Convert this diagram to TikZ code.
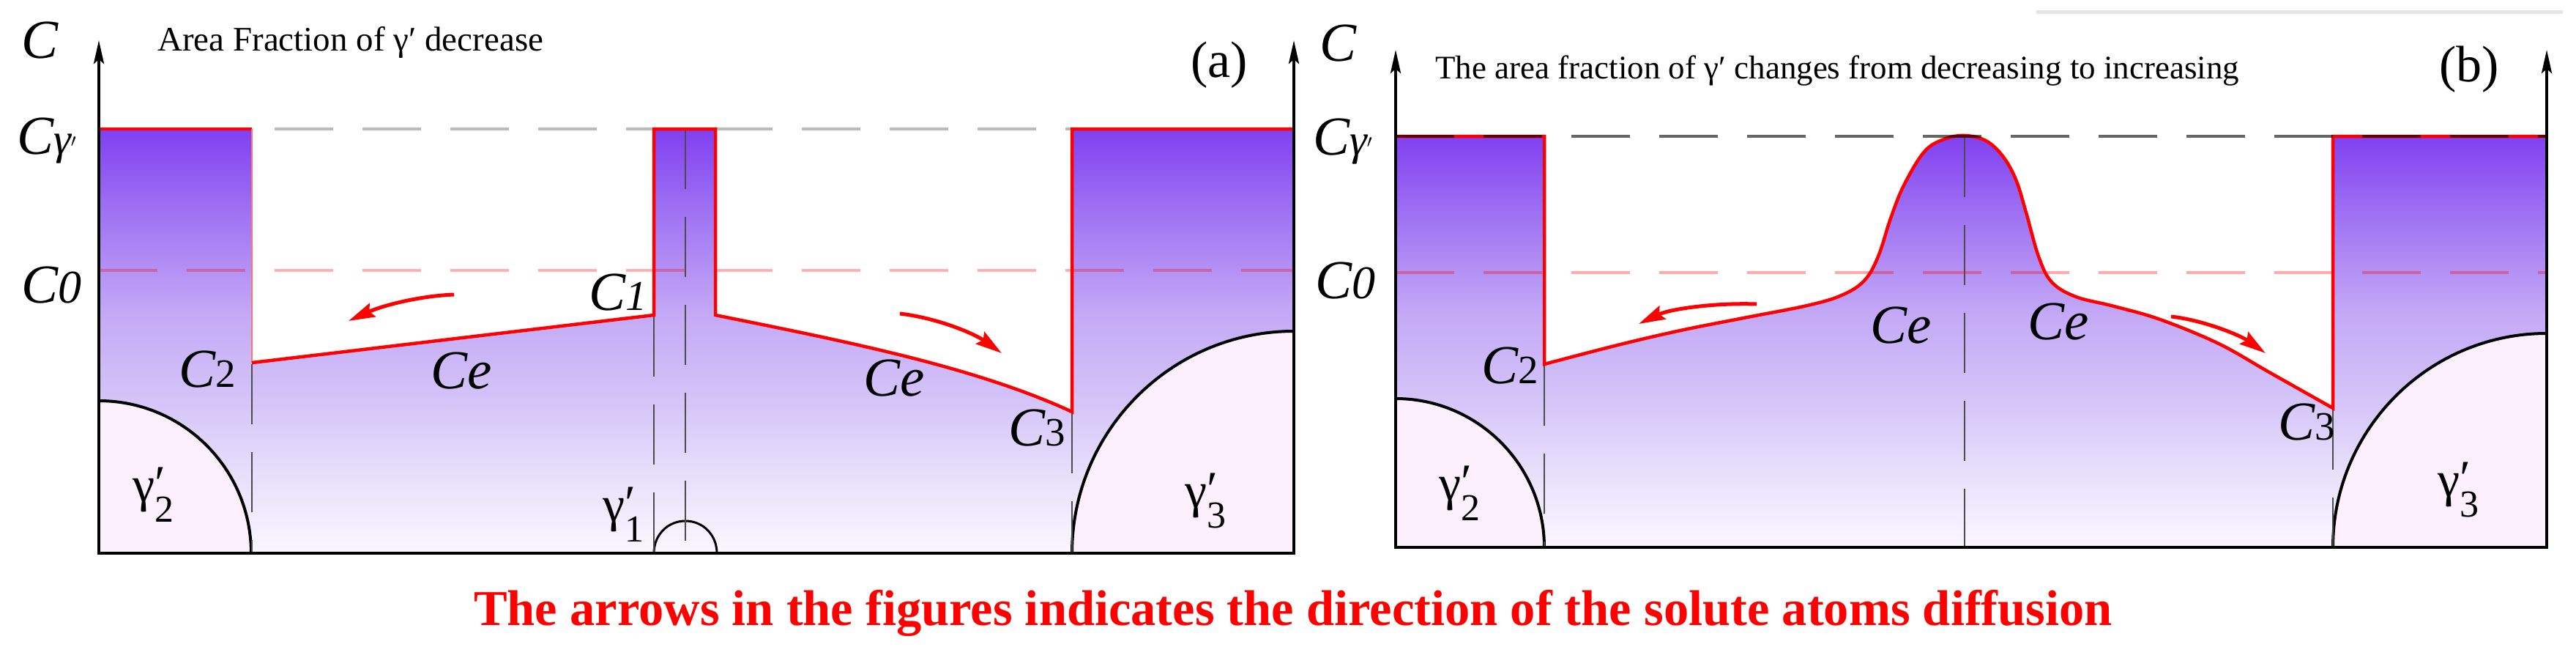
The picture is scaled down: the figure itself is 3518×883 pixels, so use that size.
\documentclass[tikz,border=0pt]{standalone}
\usepackage{fontspec}
\setmainfont{LiberationSerif}[Extension=.ttf, UprightFont=*-Regular, ItalicFont=*-Italic, BoldFont=*-Bold, BoldItalicFont=*-BoldItalic]
\usetikzlibrary{arrows.meta}
\definecolor{gA}{RGB}{250,247,255}
\definecolor{gB}{RGB}{232,224,251}
\definecolor{gC}{RGB}{212,196,248}
\definecolor{gD}{RGB}{196,170,246}
\definecolor{gE}{RGB}{160,115,243}
\definecolor{gF}{RGB}{128,64,240}
\definecolor{pinkfill}{RGB}{252,240,252}
\definecolor{artline}{RGB}{228,228,228}
\pgfdeclareverticalshading{purpfade}{100bp}{color(0bp)=(gA); color(25bp)=(gA); color(34bp)=(gB); color(43bp)=(gC); color(53bp)=(gD); color(65bp)=(gE); color(75bp)=(gF); color(100bp)=(gF)}
\newcommand\gsubl[1]{γ\rlap{\raisebox{2pt}{′}}\raisebox{-28pt}{\fontsize{52}{52}\selectfont #1}}
\tikzset{
  lbl/.style={anchor=base west, inner sep=0pt, font=\fontsize{75}{80}\selectfont\itshape},
  gam/.style={anchor=base west, inner sep=0pt, font=\fontsize{68}{70}\selectfont},
  ttl/.style={anchor=base west, inner sep=0pt},
  panel/.style={anchor=base, inner sep=0pt, font=\fontsize{70}{72}\selectfont},
  redline/.style={draw=red, line width=4.5pt, line join=miter},
  thinred/.style={draw=red!55, line width=2pt},
  vdash/.style={draw=black!70, line width=2pt, dash pattern=on 82pt off 38pt},
  hdash/.style={line width=4.5pt, dash pattern=on 80pt off 40pt},
  axisline/.style={draw=black, line width=4.5pt},
  axisarrow/.style={draw=black, line width=4pt, -{Stealth[length=32pt,width=14pt,inset=6pt]}},
  diffarrow/.style={draw=red, line width=5pt, -{Stealth[length=36pt,width=20pt,inset=5pt]}},
  arcline/.style={draw=black, line width=4pt},
}
\begin{document}
\begin{tikzpicture}[x=1pt,y=-1pt]
\useasboundingbox (0,0) rectangle (3518,883);
% ---------------- panel (a) ----------------
\shade[shading=purpfade] (135,755) -- (135,176) -- (344,176) -- (344,495) -- (893,430) -- (893,176) -- (977,176) -- (977,430) .. controls (1150,465) and (1330,500) .. (1464,562) -- (1464,176) -- (1767,176) -- (1767,755) -- cycle;
\fill[pinkfill] (135,755) -- (135,547) .. controls (250,547) and (343,640) .. (343,755) -- cycle;
\draw[arcline] (135,547) .. controls (250,547) and (343,640) .. (343,755);
\fill[pinkfill] (1767,755) -- (1767,452) .. controls (1600,452) and (1464,588) .. (1464,755) -- cycle;
\draw[arcline] (1767,452) .. controls (1600,452) and (1464,588) .. (1464,755);
\draw[arcline, line width=3pt] (893,755) .. controls (893,730) and (912,711) .. (936,711) .. controls (960,711) and (979,730) .. (979,755);
\draw[hdash, draw=black!27] (135,176) -- (1767,176);
\draw[hdash, draw=red, draw opacity=0.3] (135,369) -- (1767,369);
\draw[vdash] (344,497) -- (344,755);
\draw[vdash] (893,432) -- (893,755);
\draw[vdash] (936,176) -- (936,755);
\draw[vdash] (1464,564) -- (1464,755);
\draw[redline] (135,176) -- (344,176);
\draw[thinred] (344,176) -- (344,495);
\draw[redline] (344,495) -- (893,430) -- (893,176) -- (977,176) -- (977,430) .. controls (1150,465) and (1330,500) .. (1464,562) -- (1464,176) -- (1767,176);
\draw[axisline] (133,755) -- (1769,755);
\draw[axisarrow] (135,757) -- (135,55);
\draw[axisarrow] (1767,757) -- (1767,55);
\draw[diffarrow] (620,402) .. controls (570,404) and (520,418) .. (476,438);
\draw[diffarrow] (1229,428) .. controls (1280,434) and (1330,455) .. (1368,482);
\node[lbl] (aC) at (29,80) {C};
\node[lbl] (aCg) at (23,210) {C{\fontsize{60}{60}\selectfont γ$'$}};
\node[lbl] (aC0) at (29,413) {C{\fontsize{64}{64}\selectfont 0}};
\node[lbl] (aC1) at (804,423) {C{\fontsize{58}{60}\selectfont 1}};
\node[lbl] (aC2) at (244,528) {C{\upshape\fontsize{55}{60}\selectfont 2}};
\node[lbl] (aCe1) at (588,530) {Ce};
\node[lbl] (aCe2) at (1179,540) {Ce};
\node[lbl] (aC3) at (1377,608) {C{\upshape\fontsize{55}{60}\selectfont 3}};
\node[gam] (ag1) at (823,711) {\gsubl{1}};
\node[gam] (ag2) at (181,684) {\gsubl{2}};
\node[gam] (ag3) at (1618,692) {\gsubl{3}};
\node[panel] (alab) at (1665,105) {(a)};
\node[ttl, font=\fontsize{47}{50}\selectfont] (atitle) at (215,70) {Area Fraction of γ′ decrease};
% ---------------- panel (b) ----------------
\shade[shading=purpfade] (1906,747) -- (1906,186) -- (2109,186) -- (2109,497) -- plot[smooth,tension=0.6] coordinates {(2109,497) (2209,471) (2295,451) (2381,434) (2468,417) (2515,403) (2546,383) (2565,350) (2582,298) (2600,253) (2628,207) (2655,190) (2683,185) (2712,192) (2735,213) (2753,245) (2767,290) (2784,350) (2802,385) (2835,405) (2887,418) (2950,436) (3030,469) (3099,508) (3186,557)} -- (3186,186) -- (3478,186) -- (3478,747) -- cycle;
\fill[pinkfill] (1906,747) -- (1906,544) .. controls (2018,544) and (2109,635) .. (2109,747) -- cycle;
\draw[arcline] (1906,544) .. controls (2018,544) and (2109,635) .. (2109,747);
\fill[pinkfill] (3478,747) -- (3478,455) .. controls (3317,455) and (3186,586) .. (3186,747) -- cycle;
\draw[arcline] (3478,455) .. controls (3317,455) and (3186,586) .. (3186,747);
\draw[vdash] (2109,499) -- (2109,747);
\draw[vdash] (2683,187) -- (2683,747);
\draw[vdash] (3186,559) -- (3186,747);
\draw[redline] (1906,186) -- (2109,186) -- (2109,497) -- plot[smooth,tension=0.6] coordinates {(2109,497) (2209,471) (2295,451) (2381,434) (2468,417) (2515,403) (2546,383) (2565,350) (2582,298) (2600,253) (2628,207) (2655,190) (2683,185) (2712,192) (2735,213) (2753,245) (2767,290) (2784,350) (2802,385) (2835,405) (2887,418) (2950,436) (3030,469) (3099,508) (3186,557)} -- (3186,186) -- (3478,186);
\draw[hdash, draw=black, draw opacity=0.6] (1906,186) -- (3478,186);
\draw[hdash, draw=red, draw opacity=0.33] (1906,372) -- (3478,372);
\draw[axisline] (1904,747) -- (3480,747);
\draw[axisarrow] (1906,749) -- (1906,68);
\draw[axisarrow] (3478,749) -- (3478,68);
\draw[diffarrow] (2399,415) .. controls (2340,413) and (2280,422) .. (2238,442);
\draw[diffarrow] (2965,432) .. controls (3010,437) and (3060,458) .. (3094,482);
\node[lbl] (bC) at (1802,84) {C};
\node[lbl] (bCg) at (1793,211) {C{\fontsize{60}{60}\selectfont γ$'$}};
\node[lbl] (bC0) at (1796,407) {C{\fontsize{64}{64}\selectfont 0}};
\node[lbl] (bC2) at (2023,523) {C{\upshape\fontsize{55}{60}\selectfont 2}};
\node[lbl] (bCe1) at (2554,468) {Ce};
\node[lbl] (bCe2) at (2769,463) {Ce};
\node[lbl] (bC3) at (3111,600) {C{\upshape\fontsize{55}{60}\selectfont 3}};
\node[gam] (bg2) at (1965,682) {\gsubl{2}};
\node[gam] (bg3) at (3329,677) {\gsubl{3}};
\node[panel] (blab) at (3372,111) {(b)};
\node[ttl, font=\fontsize{45}{48}\selectfont] (btitle) at (1960,107) {The area fraction of γ′ changes from decreasing to increasing};
\draw[artline, line width=5pt] (2781,17) -- (3500,17);
% ---------------- caption ----------------
\node[anchor=base, inner sep=0pt, text=red, font=\bfseries\fontsize{68.5}{70}\selectfont] (caption) at (1766,853) {The arrows in the figures indicates the direction of the solute atoms diffusion};
\end{tikzpicture}
\end{document}
